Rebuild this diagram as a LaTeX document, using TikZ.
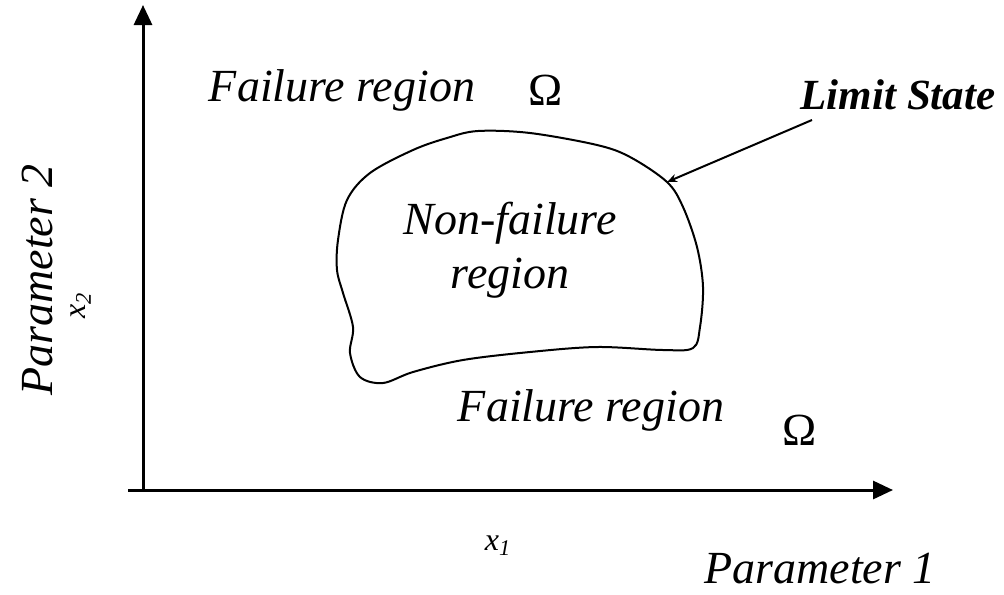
\documentclass[tikz,border=0pt]{standalone}
\usepackage{fontspec}
\setmainfont{Liberation Serif}
\usepackage{tikz}
\usetikzlibrary{positioning, calc, arrows.meta}
\tikzset{
    label/.style={
        inner sep=0pt,
        font=\fontsize{23}{27}\selectfont\itshape
    },
    symb/.style={
        inner sep=0pt,
        font=\fontsize{23}{26}\selectfont
    },
    var/.style={
        inner sep=0pt,
        font=\fontsize{16}{18}\selectfont\itshape
    },
    axis/.style={-{Triangle[length=10pt, width=9pt]}, line width=1.5pt},
    boundary/.style={line width=1pt},
    pointer/.style={-{Stealth[length=5pt, width=4pt]}, line width=1pt}
}

\begin{document}
\begin{tikzpicture}[x=0.5pt, y=-0.5pt]

\useasboundingbox (0,0) rectangle (1004,594);

% Axes
\coordinate (origin) at (143, 490);
\coordinate (xstart) at (128, 490);
\coordinate (xend) at (893, 490);
\coordinate (yend) at (143, 5);
\draw[axis] (xstart) -- (xend);
\draw[axis] (origin) -- (yend);

% Limit state boundary
\draw[boundary] plot[smooth cycle, tension=0.55] coordinates {
    (478,131) (530,133) (597,145) (630,157) (667,182) (683,207)
    (697,247) (703,287) (700,327) (693,348) (663,350) (597,347)
    (530,352) (463,360) (413,372) (383,383) (360,377) (350,353)
    (353,327) (343,293) (337,270) (338,240) (347,200) (370,173)
    (413,150) (447,138)
};
\coordinate (ls_pt) at (667,182);

% Region labels
\node[label] (fail_top) at (342, 90) {Failure region};
\node[symb] (omega_top) at (546, 90) {Ω};
\node[label, align=center] (safe) at (510, 250) {Non-failure\\region};
\node[label] (fail_bot) at (591, 410) {Failure region};
\node[symb] (omega_bot) at (800, 430) {Ω};

% Limit state pointer
\node[label, font=\fontsize{21.5}{26}\selectfont\bfseries\itshape] (ls_label) at (898, 95) {Limit State};
\coordinate (ls_from) at (812, 120);
\draw[pointer] (ls_from) -- (ls_pt);

% Axis labels
\node[label, rotate=90] (par2) at (38, 280) {Parameter 2};
\node[var, rotate=90] (x2) at (81, 305) {x\textsubscript{2}};
\node[var] (x1) at (498, 546) {x\textsubscript{1}};
\node[label] (par1) at (820, 569) {Parameter 1};

\end{tikzpicture}
\end{document}
